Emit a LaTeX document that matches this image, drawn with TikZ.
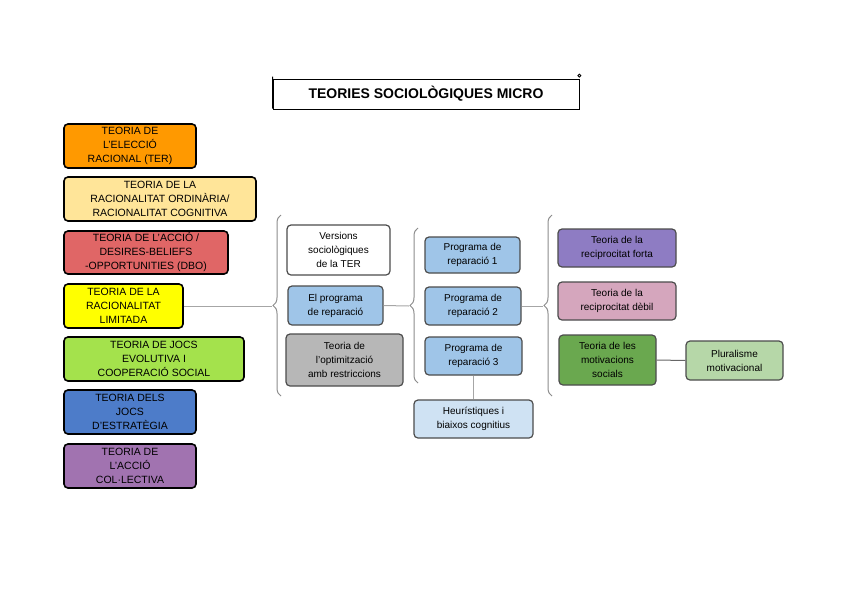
\documentclass[tikz,border=0pt]{standalone}
\usepackage{fontspec}
\setmainfont{Liberation Sans}
\usetikzlibrary{decorations.pathreplacing}
\definecolor{cOr}{HTML}{FF9900}
\definecolor{cLy}{HTML}{FFE599}
\definecolor{cRd}{HTML}{E06666}
\definecolor{cYe}{HTML}{FFFF00}
\definecolor{cGr}{HTML}{A4E24C}
\definecolor{cBl}{HTML}{4D7CC9}
\definecolor{cPu}{HTML}{A173B0}
\definecolor{cLb}{HTML}{9FC5E8}
\definecolor{cVl}{HTML}{8E7CC3}
\definecolor{cPk}{HTML}{D5A6BD}
\definecolor{cDg}{HTML}{6AA84F}
\definecolor{cPg}{HTML}{B6D7A8}
\definecolor{cXl}{HTML}{CFE2F3}
\definecolor{cGy}{HTML}{B7B7B7}
\begin{document}
\begin{tikzpicture}[x=1pt,y=-1pt,
  bx/.style={draw=black,line width=1.6pt,rounded corners=4pt,align=center,inner sep=0pt,font=\fontsize{10.5}{14}\selectfont},
  mb/.style={draw=black!70,line width=1.2pt,rounded corners=4pt,align=center,inner sep=0pt,font=\fontsize{10}{14}\selectfont},
  ln/.style={draw=black!35,line width=1pt},
  br/.style={draw=black!45,line width=1pt,decorate,decoration={brace,amplitude=8pt}}]
\useasboundingbox (0,0) rectangle (848,600);
\newcommand{\bxat}[7]{\node[#1,fill=#2,minimum width=#5-#3,minimum height=#6-#4] (#7) at ({(#3+#5)/2},{(#4+#6)/2})}
% title
\node[draw=black,line width=0.8pt,minimum width=306,minimum height=30,font=\bfseries\fontsize{14}{16}\selectfont] (title) at (426,94) {TEORIES SOCIOLÒGIQUES MICRO};
\draw[line width=0.8pt] (title.north west) ++(0,-2) -- ++(0,32) (title.north east) ++(0,-3) circle (1.5);
% left column
\bxat{bx}{cOr}{64}{124}{196}{168}{a1} {TEORIA DE\\L'ELECCIÓ\\RACIONAL (TER)};
\bxat{bx}{cLy}{64}{177}{256}{221}{a2} {TEORIA DE LA\\RACIONALITAT ORDINÀRIA/\\RACIONALITAT COGNITIVA};
\bxat{bx}{cRd}{64}{231}{228}{274}{a3} {TEORIA DE L'ACCIÓ /\\DESIRES-BELIEFS\\-OPPORTUNITIES (DBO)};
\bxat{bx}{cYe}{64}{284}{183}{328}{a4} {TEORIA DE LA\\RACIONALITAT\\LIMITADA};
\bxat{bx}{cGr}{64}{337}{244}{381}{a5} {TEORIA DE JOCS\\EVOLUTIVA I\\COOPERACIÓ SOCIAL};
\bxat{bx}{cBl}{64}{390}{196}{434}{a6} {TEORIA DELS\\JOCS\\D'ESTRATÈGIA};
\bxat{bx}{cPu}{64}{444}{196}{488}{a7} {TEORIA DE\\L'ACCIÓ\\COL·LECTIVA};
% braces
\coordinate (b1) at (272,306);
\draw[br] (281,396) -- (281,215);
\draw[ln] (a4.east) -- (b1);
\bxat{mb}{white}{287}{225}{390}{275}{v1} {Versions\\sociològiques\\de la TER};
\bxat{mb}{cLb}{288}{286}{383}{325}{v2} {El programa\\de reparació};
\bxat{mb}{cGy}{286}{334}{403}{386}{v3} {Teoria de\\l'optimització\\amb restriccions};
\coordinate (b2) at (409,306);
\draw[br] (418,383) -- (418,228);
\draw[ln] (v2.east) -- (b2);
\bxat{mb}{cLb}{425}{237}{520}{273}{p1} {Programa de\\reparació 1};
\bxat{mb}{cLb}{425}{287}{521}{325}{p2} {Programa de\\reparació 2};
\bxat{mb}{cLb}{425}{337}{522}{375}{p3} {Programa de\\reparació 3};
\bxat{mb}{cXl}{414}{400}{533}{438}{h} {Heurístiques i\\biaixos cognitius};
\draw[ln] (p3.south) -- (h.north);
\coordinate (b3) at (543,306);
\draw[br] (552,396) -- (552,215);
\draw[ln] (p2.east) -- (b3);
\bxat{mb}{cVl}{558}{229}{676}{267}{r1} {Teoria de la\\reciprocitat forta};
\bxat{mb}{cPk}{558}{282}{676}{320}{r2} {Teoria de la\\reciprocitat dèbil};
\bxat{mb}{cDg}{559}{335}{656}{385}{r3} {Teoria de les\\motivacions\\socials};
\bxat{mb}{cPg}{686}{341}{783}{380}{pl} {Pluralisme\\motivacional};
\draw[ln,draw=black!60] (r3.east) -- (pl.west);
\end{tikzpicture}
\end{document}
